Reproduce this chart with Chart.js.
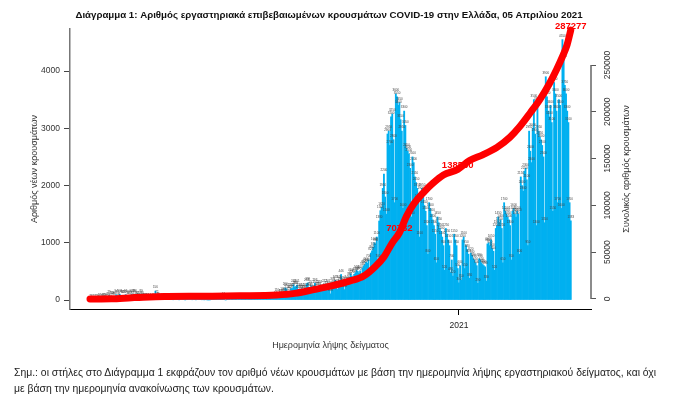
<!DOCTYPE html>
<html>
<head>
<meta charset="utf-8">
<script src="https://cdn.jsdelivr.net/npm/chart.js@4.4.1/dist/chart.umd.min.js"></script>
<style>
  html, body { margin: 0; padding: 0; background: #fff; }
  #wrap { position: relative; width: 677px; height: 399px; overflow: hidden; }
  #note {
    position: absolute; left: 14px; top: 365px;
    font: 10.4px "Liberation Sans", Arial, sans-serif;
    line-height: 16px; color: #222; white-space: nowrap;
  }
</style>
</head>
<body>
<div id="wrap">
  <canvas id="chart" width="677" height="399"></canvas>
  <div id="note">Σημ.: οι στήλες στο Διάγραμμα 1 εκφράζουν τον αριθμό νέων κρουσμάτων με βάση την ημερομηνία λήψης εργαστηριακού δείγματος, και όχι<br>με βάση την ημερομηνία ανακοίνωσης των κρουσμάτων.</div>
</div>
<script>
// day 0 = 26 Feb 2020, last day (404) = 5 Apr 2021
const feb20 = [1, 2, 0, 1];
const mar20 = [3, 2, 2, 0, 22, 12, 11, 20, 31, 19, 10, 33, 79, 30, 50, 59, 45, 66, 94, 77, 46, 102, 70, 74, 71, 76, 95, 73, 53, 51, 79];
const apr20 = [102, 63, 99, 90, 60, 62, 32, 56, 89, 60, 25, 20, 25, 22, 10, 17, 13, 13, 15, 7, 156, 72, 38, 15, 11, 10, 15, 9, 12, 12];
const may20 = [14, 8, 10, 9, 13, 4, 16, 10, 11, 10, 3, 10, 9, 10, 13, 1, 17, 18, 7, 5, 8, 4, 18, 15, 3, 8, 6, 13, 16, 4, 15];
const jun20 = [2, 13, 3, 1, 3, 2, 24, 20, 14, 15, 12, 11, 15, 12, 16, 20, 47, 6, 0, 12, 24, 23, 10, 16, 22, 10, 23, 23, 10, 31];
const jul20 = [14, 18, 22, 12, 12, 21, 8, 15, 19, 25, 17, 31, 22, 24, 28, 17, 22, 16, 11, 33, 29, 36, 26, 15, 35, 36, 30, 32, 28, 42, 57];
const aug20 = [110, 38, 48, 89, 102, 120, 118, 210, 197, 156, 122, 158, 202, 202, 269, 230, 234, 261, 163, 194, 162, 201, 168, 157, 202, 284, 299, 204, 216, 251, 158];
const sep20 = [169, 293, 245, 209, 213, 258, 152, 189, 153, 272, 237, 190, 267, 221, 108, 230, 309, 259, 343, 267, 186, 342, 296, 446, 318, 274, 182, 300, 346, 305];
const oct20 = [390, 460, 420, 280, 450, 480, 520, 500, 470, 510, 330, 560, 600, 620, 660, 640, 700, 450, 820, 860, 920, 1000, 980, 1100, 700, 1380, 1560, 1620, 1950, 2200, 1800];
const nov20 = [1500, 2900, 2950, 2700, 3200, 3250, 2800, 1700, 3600, 3550, 3400, 3450, 3150, 2950, 1600, 3300, 3050, 2650, 2600, 2550, 2300, 1450, 2500, 2400, 2150, 2050, 1950, 1750, 1100, 1900];
const dec20 = [1950, 1800, 1650, 1550, 1300, 800, 1700, 1600, 1500, 1400, 1300, 1150, 650, 1450, 1350, 1250, 1200, 1100, 950, 520, 1250, 1150, 1050, 950, 480, 700, 420, 1150, 1050, 950, 550];
const jan21 = [300, 600, 350, 1050, 1100, 550, 950, 880, 800, 380, 820, 780, 720, 700, 650, 600, 290, 720, 700, 650, 620, 600, 580, 330, 980, 1000, 950, 1050, 900, 850, 520];
const feb21 = [1250, 1300, 1450, 1350, 1400, 1250, 650, 1700, 1550, 1500, 1450, 1400, 1300, 700, 1550, 1600, 1500, 1450, 1550, 1500, 800, 2150, 2000, 1900, 2250, 2300, 2100, 950];
const mar21 = [2950, 2600, 2400, 3000, 3500, 2900, 1300, 3450, 2950, 2850, 2800, 2700, 2500, 1350, 3900, 3550, 3300, 3200, 3400, 3100, 1550, 3800, 3600, 3300, 1700, 3500, 3400, 1600, 4550, 4200, 3750];
const apr21 = [3600, 3300, 3100, 1700, 1383];

const newCases = [].concat(feb20, mar20, apr20, may20, jun20, jul20, aug20, sep20, oct20, nov20, dec20, jan21, feb21, mar21, apr21);

// cumulative total (day index -> cases)
const totalDays  = [0, 18, 35, 50, 65, 96, 126, 157, 172, 188, 203, 218, 230, 240, 247, 254, 260, 266, 272, 280, 288, 297, 309, 319, 330, 342, 353, 361, 370, 378, 386, 392, 397, 401, 404];
const totalCases = [1, 230, 1400, 2250, 2600, 2950, 3400, 4300, 6000, 10000, 14000, 19000, 24500, 35000, 45000, 60000, 70782, 88500, 101500, 113500, 123500, 132500, 138530, 148000, 154000, 162000, 173000, 184000, 199000, 213000, 230000, 245000, 259000, 272000, 287277];
const labelledDays = [260, 309, 404];

const xTickDays = [310];
const xTickLabels = ['2021'];
const leftTicks = [0, 1000, 2000, 3000, 4000];
const rightTicks = [0, 50000, 100000, 150000, 200000, 250000];

const FONT = '"Liberation Sans", Arial, sans-serif';
const mainTitle = 'Διάγραμμα 1: Αριθμός εργαστηριακά επιβεβαιωμένων κρουσμάτων COVID-19 στην Ελλάδα, 05 Απριλίου 2021';
const rightTitle = 'Συνολικός αριθμός κρουσμάτων';

const barData = newCases.map((v, i) => ({ x: i, y: v }));
const lineData = totalDays.map((d, i) => ({ x: d, y: totalCases[i] }));

const extrasPlugin = {
    id: 'extras',
    afterDatasetDraw(chart, args) {
        if (args.index !== 1) return;
        const ctx = chart.ctx;
        const xs = chart.scales.x, ys = chart.scales.y2;
        ctx.save();
        // tiny value labels over each bar
        ctx.font = '3px ' + FONT;
        ctx.fillStyle = '#444';
        ctx.textAlign = 'center';
        ctx.textBaseline = 'bottom';
        args.meta.data.forEach((bar, i) => {
            ctx.fillText(String(newCases[i]), bar.x, bar.y - 2);
        });
        // red labels on the cumulative line
        ctx.font = 'bold 9.5px ' + FONT;
        ctx.fillStyle = '#ff0000';
        ctx.textBaseline = 'middle';
        labelledDays.forEach(d => {
            const v = totalCases[totalDays.indexOf(d)];
            ctx.fillText(String(v), xs.getPixelForValue(d), ys.getPixelForValue(v) - 4);
        });
        ctx.restore();
    },
    afterDraw(chart) {
        const ctx = chart.ctx;
        const s = chart.scales.y2;
        const area = chart.chartArea;
        ctx.save();
        // main title
        ctx.fillStyle = '#111';
        ctx.font = 'bold 9.7px ' + FONT;
        ctx.textAlign = 'center';
        ctx.textBaseline = 'middle';
        ctx.fillText(mainTitle, 329, 15);
        // right axis line, labels and title
        ctx.strokeStyle = '#666';
        ctx.lineWidth = 1.5;
        ctx.beginPath();
        ctx.moveTo(s.left, s.getPixelForValue(rightTicks[rightTicks.length - 1]));
        ctx.lineTo(s.left, s.getPixelForValue(0));
        ctx.stroke();
        ctx.fillStyle = '#333';
        ctx.font = '8.5px ' + FONT;
        rightTicks.forEach(v => {
            ctx.save();
            ctx.translate(s.left + 17, s.getPixelForValue(v));
            ctx.rotate(-Math.PI / 2);
            ctx.fillText(String(v), 0, 0);
            ctx.restore();
        });
        ctx.font = '9px ' + FONT;
        ctx.translate(627, (area.top + area.bottom) / 2);
        ctx.rotate(-Math.PI / 2);
        ctx.fillText(rightTitle, 0, 0);
        ctx.restore();
    }
};

new Chart(document.getElementById('chart'), {
    type: 'bar',
    data: {
        datasets: [{
            type: 'line',
            data: lineData,
            xAxisID: 'x',
            yAxisID: 'y2',
            borderColor: '#ff0000',
            borderWidth: 7,
            borderCapStyle: 'round',
            borderJoinStyle: 'round',
            pointRadius: 0,
            cubicInterpolationMode: 'monotone',
            clip: false
        }, {
            data: barData,
            xAxisID: 'x',
            yAxisID: 'y',
            backgroundColor: '#00b0f0',
            borderWidth: 0,
            barPercentage: 1,
            categoryPercentage: 1
        }]
    },
    options: {
        responsive: false,
        animation: false,
        layout: { padding: { top: 29, left: 0, right: 0, bottom: 0 } },
        plugins: { legend: { display: false }, tooltip: { enabled: false } },
        scales: {
            x: {
                type: 'linear',
                min: -16.8,
                max: 421,
                offset: false,
                afterBuildTicks: s => { s.ticks = xTickDays.map(v => ({ value: v })); },
                afterFit: s => { s.height = 90; },
                ticks: {
                    callback: (v, i) => xTickLabels[i],
                    font: { family: FONT, size: 8.5 },
                    color: '#222',
                    padding: 6,
                    maxRotation: 0
                },
                grid: { offset: false, drawOnChartArea: false, drawTicks: true, tickLength: 6, tickColor: '#000' },
                border: { display: true, color: '#000', width: 1 },
                title: {
                    display: true,
                    text: 'Ημερομηνία λήψης δείγματος',
                    font: { family: FONT, size: 9 },
                    color: '#333',
                    padding: { top: 0, bottom: 47.6 }
                }
            },
            y: {
                position: 'left',
                min: -157,
                max: 4734,
                afterBuildTicks: s => { s.ticks = leftTicks.map(v => ({ value: v })); },
                afterFit: s => { s.width = 70; },
                ticks: {
                    callback: v => String(v),
                    font: { family: FONT, size: 8.5 },
                    color: '#333',
                    padding: 4
                },
                grid: { drawOnChartArea: false, drawTicks: true, tickLength: 6, tickColor: '#444' },
                border: { display: true, color: '#777', width: 1.5 },
                title: {
                    display: true,
                    text: 'Αριθμός νέων κρουσμάτων',
                    font: { family: FONT, size: 9 },
                    color: '#333',
                    padding: { top: 29, bottom: 0 }
                }
            },
            y2: {
                position: 'right',
                min: -10684,
                max: 288462,
                afterBuildTicks: s => { s.ticks = rightTicks.map(v => ({ value: v })); },
                afterFit: s => { s.width = 86; },
                ticks: { display: false },
                grid: { drawOnChartArea: false, drawTicks: true, tickLength: 5, tickColor: '#555' },
                border: { display: false }
            }
        }
    },
    plugins: [extrasPlugin]
});
</script>
</body>
</html>
